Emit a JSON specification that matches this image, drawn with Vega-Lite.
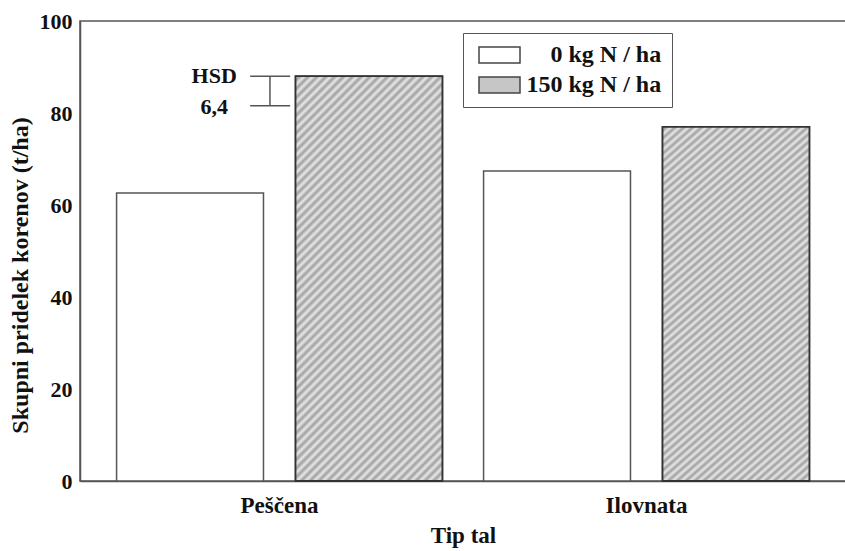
{
  "$schema": "https://vega.github.io/schema/vega-lite/v6.json",
  "autosize": "none",
  "width": 766,
  "height": 460,
  "padding": {"left": 80, "top": 21, "right": 0, "bottom": 70},
  "background": "white",
  "config": {
    "font": "Liberation Serif",
    "view": {"stroke": "#555", "strokeWidth": 1.5},
    "axis": {"labelFont": "Liberation Serif", "titleFont": "Liberation Serif", "labelFontWeight": "bold", "titleFontWeight": "bold", "labelColor": "#111", "titleColor": "#111", "domainColor": "#555", "domainWidth": 1.5, "grid": false}
  },
  "datasets": {
    "bars": [
      {"tip": "Peščena", "n": "0 kg N / ha", "v": 62.6},
      {"tip": "Peščena", "n": "150 kg N / ha", "v": 88.0},
      {"tip": "Ilovnata", "n": "0 kg N / ha", "v": 67.4},
      {"tip": "Ilovnata", "n": "150 kg N / ha", "v": 77.0}
    ],
    "hsd": [{"tip": "Peščena", "lo": 81.6, "hi": 88.0}],
    "hsdText": [
      {"tip": "Peščena", "t": "HSD", "v": 88.0},
      {"tip": "Peščena", "t": "6,4", "v": 81.3}
    ]
  },
  "layer": [
    {
      "data": {"name": "bars"},
      "mark": {"type": "bar", "stroke": "#555", "strokeWidth": 1.5},
      "encoding": {
        "x": {"field": "tip", "type": "nominal", "sort": ["Peščena", "Ilovnata"], "scale": {"paddingInner": 0, "paddingOuter": 0.0436},
          "axis": {"title": "Tip tal", "labelAngle": 0, "ticks": false, "labelFontSize": 23, "titleFontSize": 23, "labelPadding": 13, "titlePadding": 7}},
        "xOffset": {"field": "n", "type": "nominal", "sort": ["0 kg N / ha", "150 kg N / ha"], "scale": {"paddingInner": 0.179, "paddingOuter": 0.115}},
        "y": {"field": "v", "type": "quantitative", "scale": {"domain": [0, 100]},
          "axis": {"title": "Skupni pridelek korenov (t/ha)", "values": [0, 20, 40, 60, 80, 100], "ticks": false, "labelFontSize": 22, "titleFontSize": 24, "labelPadding": 8, "titlePadding": 7, "titleY": 254}},
        "fill": {"field": "n", "type": "nominal", "sort": ["0 kg N / ha", "150 kg N / ha"],
          "scale": {"domain": ["0 kg N / ha", "150 kg N / ha"], "range": ["#ffffff", "#c6c6c6"]},
          "legend": {"title": null, "orient": "none", "legendX": 383, "legendY": 12, "strokeColor": "#555", "fillColor": "white", "padding": 10,
            "symbolType": "M-2.05,-0.8H2.05V0.8H-2.05Z", "symbolSize": 400, "symbolOffset": 14.5, "symbolStrokeColor": "#444", "symbolStrokeWidth": 1.5,
            "labelFont": "Liberation Serif", "labelFontSize": 24, "labelFontWeight": "bold", "labelColor": "#111", "labelOffset": 15, "rowPadding": 6,
            "labelExpr": "indexof(datum.label, '150') == 0 ? datum.label : '\u200b\u2007\u2007' + datum.label"}}
      }
    },
    {
      "data": {"name": "bars"},
      "transform": [{"filter": "datum.n == '150 kg N / ha'"}],
      "mark": {"type": "bar", "stroke": "#333", "strokeWidth": 1.8,
        "fill": {"gradient": "linear", "x1": 0, "y1": 0, "x2": 0.437, "y2": 1.204, "stops": [
{"offset":0,"color":"#e8e8e8"},{"offset":0.008,"color":"#a0a0a0"},{"offset":0.016,"color":"#e8e8e8"},{"offset":0.024,"color":"#a0a0a0"},{"offset":0.032,"color":"#e8e8e8"},{"offset":0.04,"color":"#a0a0a0"},{"offset":0.048,"color":"#e8e8e8"},{"offset":0.056,"color":"#a0a0a0"},{"offset":0.064,"color":"#e8e8e8"},{"offset":0.072,"color":"#a0a0a0"},
{"offset":0.08,"color":"#e8e8e8"},{"offset":0.088,"color":"#a0a0a0"},{"offset":0.096,"color":"#e8e8e8"},{"offset":0.104,"color":"#a0a0a0"},{"offset":0.112,"color":"#e8e8e8"},{"offset":0.12,"color":"#a0a0a0"},{"offset":0.128,"color":"#e8e8e8"},{"offset":0.136,"color":"#a0a0a0"},{"offset":0.144,"color":"#e8e8e8"},{"offset":0.152,"color":"#a0a0a0"},
{"offset":0.16,"color":"#e8e8e8"},{"offset":0.168,"color":"#a0a0a0"},{"offset":0.176,"color":"#e8e8e8"},{"offset":0.184,"color":"#a0a0a0"},{"offset":0.192,"color":"#e8e8e8"},{"offset":0.2,"color":"#a0a0a0"},{"offset":0.208,"color":"#e8e8e8"},{"offset":0.216,"color":"#a0a0a0"},{"offset":0.224,"color":"#e8e8e8"},{"offset":0.232,"color":"#a0a0a0"},
{"offset":0.24,"color":"#e8e8e8"},{"offset":0.248,"color":"#a0a0a0"},{"offset":0.256,"color":"#e8e8e8"},{"offset":0.264,"color":"#a0a0a0"},{"offset":0.272,"color":"#e8e8e8"},{"offset":0.28,"color":"#a0a0a0"},{"offset":0.288,"color":"#e8e8e8"},{"offset":0.296,"color":"#a0a0a0"},{"offset":0.304,"color":"#e8e8e8"},{"offset":0.312,"color":"#a0a0a0"},
{"offset":0.32,"color":"#e8e8e8"},{"offset":0.328,"color":"#a0a0a0"},{"offset":0.336,"color":"#e8e8e8"},{"offset":0.344,"color":"#a0a0a0"},{"offset":0.352,"color":"#e8e8e8"},{"offset":0.36,"color":"#a0a0a0"},{"offset":0.368,"color":"#e8e8e8"},{"offset":0.376,"color":"#a0a0a0"},{"offset":0.384,"color":"#e8e8e8"},{"offset":0.392,"color":"#a0a0a0"},
{"offset":0.4,"color":"#e8e8e8"},{"offset":0.408,"color":"#a0a0a0"},{"offset":0.416,"color":"#e8e8e8"},{"offset":0.424,"color":"#a0a0a0"},{"offset":0.432,"color":"#e8e8e8"},{"offset":0.44,"color":"#a0a0a0"},{"offset":0.448,"color":"#e8e8e8"},{"offset":0.456,"color":"#a0a0a0"},{"offset":0.464,"color":"#e8e8e8"},{"offset":0.472,"color":"#a0a0a0"},
{"offset":0.48,"color":"#e8e8e8"},{"offset":0.488,"color":"#a0a0a0"},{"offset":0.496,"color":"#e8e8e8"},{"offset":0.504,"color":"#a0a0a0"},{"offset":0.512,"color":"#e8e8e8"},{"offset":0.52,"color":"#a0a0a0"},{"offset":0.528,"color":"#e8e8e8"},{"offset":0.536,"color":"#a0a0a0"},{"offset":0.544,"color":"#e8e8e8"},{"offset":0.552,"color":"#a0a0a0"},
{"offset":0.56,"color":"#e8e8e8"},{"offset":0.568,"color":"#a0a0a0"},{"offset":0.576,"color":"#e8e8e8"},{"offset":0.584,"color":"#a0a0a0"},{"offset":0.592,"color":"#e8e8e8"},{"offset":0.6,"color":"#a0a0a0"},{"offset":0.608,"color":"#e8e8e8"},{"offset":0.616,"color":"#a0a0a0"},{"offset":0.624,"color":"#e8e8e8"},{"offset":0.632,"color":"#a0a0a0"},
{"offset":0.64,"color":"#e8e8e8"},{"offset":0.648,"color":"#a0a0a0"},{"offset":0.656,"color":"#e8e8e8"},{"offset":0.664,"color":"#a0a0a0"},{"offset":0.672,"color":"#e8e8e8"},{"offset":0.68,"color":"#a0a0a0"},{"offset":0.688,"color":"#e8e8e8"},{"offset":0.696,"color":"#a0a0a0"},{"offset":0.704,"color":"#e8e8e8"},{"offset":0.712,"color":"#a0a0a0"},
{"offset":0.72,"color":"#e8e8e8"},{"offset":0.728,"color":"#a0a0a0"},{"offset":0.736,"color":"#e8e8e8"},{"offset":0.744,"color":"#a0a0a0"},{"offset":0.752,"color":"#e8e8e8"},{"offset":0.76,"color":"#a0a0a0"},{"offset":0.768,"color":"#e8e8e8"},{"offset":0.776,"color":"#a0a0a0"},{"offset":0.784,"color":"#e8e8e8"},{"offset":0.792,"color":"#a0a0a0"},
{"offset":0.8,"color":"#e8e8e8"},{"offset":0.808,"color":"#a0a0a0"},{"offset":0.816,"color":"#e8e8e8"},{"offset":0.824,"color":"#a0a0a0"},{"offset":0.832,"color":"#e8e8e8"},{"offset":0.84,"color":"#a0a0a0"},{"offset":0.848,"color":"#e8e8e8"},{"offset":0.856,"color":"#a0a0a0"},{"offset":0.864,"color":"#e8e8e8"},{"offset":0.872,"color":"#a0a0a0"},
{"offset":0.88,"color":"#e8e8e8"},{"offset":0.888,"color":"#a0a0a0"},{"offset":0.896,"color":"#e8e8e8"},{"offset":0.904,"color":"#a0a0a0"},{"offset":0.912,"color":"#e8e8e8"},{"offset":0.92,"color":"#a0a0a0"},{"offset":0.928,"color":"#e8e8e8"},{"offset":0.936,"color":"#a0a0a0"},{"offset":0.944,"color":"#e8e8e8"},{"offset":0.952,"color":"#a0a0a0"},
{"offset":0.96,"color":"#e8e8e8"},{"offset":0.968,"color":"#a0a0a0"},{"offset":0.976,"color":"#e8e8e8"},{"offset":0.984,"color":"#a0a0a0"},{"offset":0.992,"color":"#e8e8e8"},{"offset":1,"color":"#a0a0a0"}
        ]}},
      "encoding": {
        "x": {"field": "tip", "type": "nominal", "sort": ["Peščena", "Ilovnata"]},
        "xOffset": {"field": "n", "type": "nominal", "sort": ["0 kg N / ha", "150 kg N / ha"]},
        "y": {"field": "v", "type": "quantitative"}
      }
    },
    {
      "data": {"name": "hsd"},
      "mark": {"type": "rule", "stroke": "#555", "strokeWidth": 1.5},
      "encoding": {
        "x": {"field": "tip", "type": "nominal", "sort": ["Peščena", "Ilovnata"], "bandPosition": 0.42},
        "x2": {"field": "tip", "bandPosition": 0.529},
        "y": {"field": "hi", "type": "quantitative"}
      }
    },
    {
      "data": {"name": "hsd"},
      "mark": {"type": "rule", "stroke": "#555", "strokeWidth": 1.5},
      "encoding": {
        "x": {"field": "tip", "type": "nominal", "sort": ["Peščena", "Ilovnata"], "bandPosition": 0.42},
        "x2": {"field": "tip", "bandPosition": 0.529},
        "y": {"field": "lo", "type": "quantitative"}
      }
    },
    {
      "data": {"name": "hsd"},
      "mark": {"type": "rule", "stroke": "#555", "strokeWidth": 1.5},
      "encoding": {
        "x": {"field": "tip", "type": "nominal", "sort": ["Peščena", "Ilovnata"], "bandPosition": 0.474},
        "y": {"field": "lo", "type": "quantitative"},
        "y2": {"field": "hi"}
      }
    },
    {
      "data": {"name": "hsdText"},
      "mark": {"type": "text", "font": "Liberation Serif", "fontSize": 22, "fontWeight": "bold", "color": "#111", "align": "center", "baseline": "middle"},
      "encoding": {
        "x": {"field": "tip", "type": "nominal", "sort": ["Peščena", "Ilovnata"], "bandPosition": 0.322},
        "y": {"field": "v", "type": "quantitative"},
        "text": {"field": "t", "type": "nominal"}
      }
    }
  ]
}
